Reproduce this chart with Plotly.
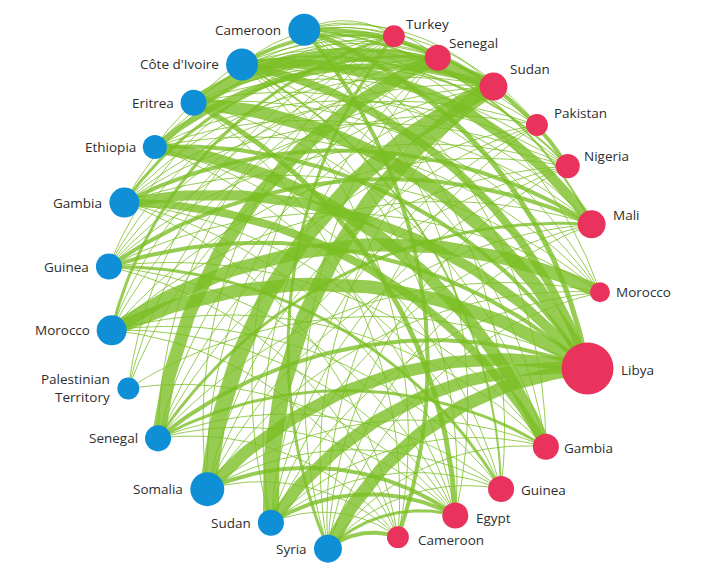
import numpy as np
import plotly.graph_objects as go

# ---------------- data ----------------
origins = ["Cameroon", "Côte d'Ivoire", "Eritrea", "Ethiopia", "Gambia", "Guinea",
           "Morocco", "Palestinian<br>Territory", "Senegal", "Somalia", "Sudan", "Syria"]
transits = ["Turkey", "Senegal", "Sudan", "Pakistan", "Nigeria", "Mali",
            "Morocco", "Libya", "Gambia", "Guinea", "Egypt", "Cameroon"]

# node totals (marker area scale)
origin_totals = [1020, 1020, 680, 580, 900, 680, 900, 480, 680, 1150, 680, 780]
transit_totals = [480, 680, 780, 480, 580, 780, 400, 2700, 680, 680, 680, 480]

# flow strength origin -> transit (rows = origins, cols = transits)
flows_cameroon = [1, 1, 1, 1, 4, 2, 1, 5, 1, 1, 1, 4]
flows_cote     = [1, 3, 1, 1, 2, 10, 1, 8, 1, 2, 1, 1]
flows_eritrea  = [1, 1, 14, 1, 1, 1, 1, 13, 1, 0, 5, 1]
flows_ethiopia = [1, 1, 6, 0, 1, 1, 1, 4, 12, 1, 1, 0]
flows_gambia   = [1, 3, 1, 1, 1, 4, 1, 10, 8, 1, 1, 1]
flows_guinea   = [1, 1, 1, 1, 1, 4, 1, 4, 1, 3, 1, 1]
flows_morocco  = [3, 1, 1, 0, 1, 1, 13, 13, 1, 1, 1, 1]
flows_palest   = [1, 1, 1, 0, 0, 0, 0, 1, 0, 0, 1, 0]
flows_senegal  = [1, 13, 1, 1, 1, 3, 1, 4, 3, 1, 1, 1]
flows_somalia  = [1, 1, 16, 1, 1, 1, 1, 12, 1, 1, 4, 1]
flows_sudan    = [1, 1, 16, 1, 1, 1, 1, 12, 1, 1, 4, 1]
flows_syria    = [3, 1, 1, 1, 1, 1, 1, 13, 1, 1, 3, 4]
flows = [flows_cameroon, flows_cote, flows_eritrea, flows_ethiopia, flows_gambia,
         flows_guinea, flows_morocco, flows_palest, flows_senegal, flows_somalia,
         flows_sudan, flows_syria]

# ---------------- layout (circular) ----------------
PAGE_W, PAGE_H = 705, 580
BODY = 8                     # default page margin around the plot div
W, H = PAGE_W - 2 * BODY, PAGE_H - 2 * BODY
CX, CY = 354, 288
origin_angle = [100.9, 116.6, 130.9, 144.7, 159.6, 175.0, 189.9, 204.0, 217.5, 233.9, 250.5, 264.3]
origin_rad = [263, 250, 245, 244, 245, 246, 246, 247, 247, 249, 249, 262]
transit_angle = [81.0, 70.0, 55.3, 41.7, 29.7, 15.0, -1.0, -19.0, -39.6, -53.8, -66.0, -80.0]
transit_rad = [255, 245, 245, 245, 246, 246, 246, 247, 249, 249, 249, 253]

def pos(angles, rads):
    a = np.radians(angles)
    return CX + np.array(rads) * np.cos(a), CY - np.array(rads) * np.sin(a)

ox, oy = pos(origin_angle, origin_rad)
tx, ty = pos(transit_angle, transit_rad)

BLUE = "#0f8fd6"
RED = "#e9325c"
GREEN = "rgba(122,190,35,0.78)"

def arc(x0, y0, x1, y1, n=60):
    dx, dy = x1 - x0, y1 - y0
    L = np.hypot(dx, dy)
    nx, ny = dy / L, -dx / L          # left of travel (screen coords)
    mx, my = (x0 + x1) / 2, (y0 + y1) / 2
    d = np.sqrt(3) / 2 * L
    cx, cy = mx - nx * d, my - ny * d
    a0 = np.arctan2(y0 - cy, x0 - cx)
    a1 = np.arctan2(y1 - cy, x1 - cx)
    da = (a1 - a0 + np.pi) % (2 * np.pi) - np.pi
    t = np.linspace(0, 1, n)
    ang = a0 + da * t
    return cx + L * np.cos(ang), cy + L * np.sin(ang)

fig = go.Figure()
for i in range(len(origins)):
    for j in range(len(transits)):
        v = flows[i][j]
        if v <= 0:
            continue
        xs, ys = arc(ox[i], oy[i], tx[j], ty[j])
        fig.add_trace(go.Scatter(x=xs, y=ys, mode="lines",
                                 line=dict(color=GREEN, width=v * 1.0),
                                 hoverinfo="skip", showlegend=False))

osize = [np.sqrt(v) for v in origin_totals]
tsize = [np.sqrt(v) for v in transit_totals]
fig.add_trace(go.Scatter(x=ox, y=oy, mode="markers",
                         marker=dict(size=osize, color=BLUE, opacity=1, line=dict(width=0)),
                         text=origins, hoverinfo="text", showlegend=False))
fig.add_trace(go.Scatter(x=tx, y=ty, mode="markers",
                         marker=dict(size=tsize, color=RED, opacity=1, line=dict(width=0)),
                         text=transits, hoverinfo="text", showlegend=False))

FONT = dict(family="Open Sans, Noto Sans, sans-serif", size=13.5, color="#2e2e2e")
anns = []
for i, name in enumerate(origins):
    anns.append(dict(x=ox[i], y=oy[i], text=name, showarrow=False, xanchor="right",
                     yanchor="middle", align="right", xshift=-(osize[i] / 2 + 5), font=FONT))
t_off = [(10, 12), (9, 15), (15, 18), (15, 12), (14, 10), (19, 9), (14, 0), (31, -2),
         (16, -1), (18, -1), (19, -3), (18, -3)]
for j, name in enumerate(transits):
    sx, sy = t_off[j]
    anns.append(dict(x=tx[j], y=ty[j], text=name, showarrow=False, xanchor="left",
                     yanchor="middle", xshift=sx, yshift=sy, font=FONT))

fig.update_layout(width=W, height=H, margin=dict(l=0, r=0, t=0, b=0),
                  paper_bgcolor="white", plot_bgcolor="white",
                  xaxis=dict(range=[BODY, BODY + W], visible=False, fixedrange=True),
                  yaxis=dict(range=[BODY + H, BODY], visible=False, fixedrange=True),
                  annotations=anns)
fig.write_html("out.html")
